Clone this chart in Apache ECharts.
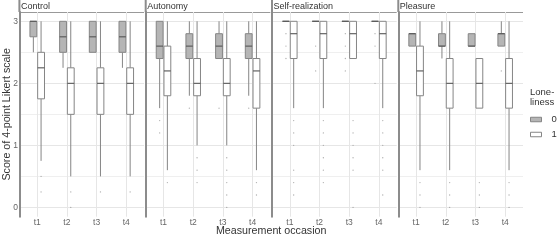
<!DOCTYPE html>
<html>
<head>
<meta charset="utf-8">
<script src="https://cdn.jsdelivr.net/npm/echarts@6/dist/echarts.min.js"></script>
<style>html,body{margin:0;padding:0;background:#fff;}#c{width:558px;height:240px;}</style>
</head>
<body>
<div id="c"></div>
<script>
// ---- data ----
const panels = ['Control', 'Autonomy', 'Self-realization', 'Pleasure'];
const occasions = ['t1', 't2', 't3', 't4'];
const groups = ['0', '1'];
const yTicks = [0, 1, 2, 3];
const yMinor = [0.5, 1.5, 2.5];

// box stats per occasion: [lower whisker, Q1, median, Q3, upper whisker]
const controlBox0 = [[2.5, 2.75, 3, 3, 3], [2.25, 2.5, 2.75, 3, 3], [2.5, 2.5, 2.75, 3, 3], [2.25, 2.5, 2.75, 3, 3]];
const controlBox1 = [[0.75, 1.75, 2.25, 2.5, 3], [0.5, 1.5, 2, 2.25, 3], [0.5, 1.5, 2, 2.25, 3], [0.5, 1.5, 2, 2.25, 3]];
const controlOut0 = [[], [], [], []];
const controlOut1 = [[0.5, 0.25], [0.25, 0], [0.25], [0.25]];

const autonomyBox0 = [[1.6, 2.4, 2.6, 3, 3], [1.8, 2.4, 2.6, 2.8, 3], [2.4, 2.4, 2.6, 2.8, 3], [1.8, 2.4, 2.6, 2.8, 3]];
const autonomyBox1 = [[0.6, 1.8, 2.2, 2.6, 3], [1.0, 1.8, 2.0, 2.4, 3], [1.0, 1.8, 2.0, 2.4, 3], [0.6, 1.6, 2.2, 2.4, 3]];
const autonomyOut0 = [[1.4, 1.2], [1.6], [1.6], [1.6]];
const autonomyOut1 = [[0.4], [0.8, 0.6, 0.4], [0.8, 0.6, 0.4, 0.2, 0], [0.4, 0.2]];

const selfBox0 = [[3, 3, 3, 3, 3], [3, 3, 3, 3, 3], [3, 3, 3, 3, 3], [3, 3, 3, 3, 3]];
const selfBox1 = [[1.6, 2.4, 2.8, 3, 3], [1.6, 2.4, 2.8, 3, 3], [2.4, 2.4, 2.8, 3, 3], [1.6, 2.4, 2.8, 3, 3]];
const selfOut0 = [[2.8, 2.6, 2.4], [2.6, 2.2], [2.8, 2.6, 2.4, 2.2], [2.8, 2.6, 2.0]];
const selfOut1 = [[1.4, 1.2, 1.0, 0.6, 0.4, 0.2], [1.4, 1.2, 1.0, 0.8, 0.6, 0.4], [1.4, 1.2, 1.0, 0.8, 0.6, 0], [1.4, 1.2, 1.0, 0.8, 0.6, 0.2]];

const pleasureBox0 = [[2.6, 2.6, 2.8, 2.8, 2.8], [2.4, 2.6, 2.6, 2.8, 3], [2.6, 2.6, 2.6, 2.8, 2.8], [2.6, 2.6, 2.8, 2.8, 3]];
const pleasureBox1 = [[0.6, 1.8, 2.2, 2.6, 3], [0.6, 1.6, 2.0, 2.4, 3], [1.6, 1.6, 2.0, 2.4, 2.4], [0.6, 1.6, 2.0, 2.4, 3]];
const pleasureOut0 = [[], [], [], [2.2]];
const pleasureOut1 = [[0.4, 0.2, 0], [0.4, 0.2, 0], [0.4, 0.2, 0], [0.4, 0.2, 0]];

const boxes = [[controlBox0, controlBox1], [autonomyBox0, autonomyBox1], [selfBox0, selfBox1], [pleasureBox0, pleasureBox1]];
const outs = [[controlOut0, controlOut1], [autonomyOut0, autonomyOut1], [selfOut0, selfOut1], [pleasureOut0, pleasureOut1]];

// ---- layout / style ----
const FONT = '"Liberation Sans", Arial, Helvetica, sans-serif';
const P_LEFT0 = 19.4, P_PITCH = 126.3, P_W = 124.7, P_TOP = 12, P_H = 204.7;
const DODGE = [-0.13, 0.13];
const BOX_W = 0.23;
const FILLS = ['#b5b5b5', '#ffffff'];
const EDGE = '#858585';
const MEDIAN = '#555555';
const GRID_MAJOR = '#e6e6e6', GRID_MINOR = '#efefef';

const chart = echarts.init(document.getElementById('c'), null, { renderer: 'canvas' });

const grids = [], xAxes = [], yAxes = [], series = [], graphics = [];
panels.forEach((name, k) => {
  const left = P_LEFT0 + k * P_PITCH;
  grids.push({ left: left, top: P_TOP, width: P_W, height: P_H, containLabel: false });
  xAxes.push({
    type: 'value', gridIndex: k, min: 0.4, max: 4.6,
    axisLine: { show: false }, axisTick: { show: false, customValues: [1, 2, 3, 4] }, splitLine: { show: false },
    axisLabel: {
      customValues: [1, 2, 3, 4], formatter: v => occasions[Math.round(v) - 1] || '',
      color: '#666', fontSize: 8.5, fontFamily: FONT, margin: 1.5
    }
  });
  yAxes.push({
    type: 'value', gridIndex: k, min: -0.15, max: 3.15,
    axisLine: { show: true, lineStyle: { color: '#8c8c8c', width: 2 } },
    axisTick: { show: false, customValues: yTicks }, splitLine: { show: false },
    axisLabel: { show: k === 0, customValues: yTicks, color: '#666', fontSize: 8.5, fontFamily: FONT, margin: 1.5 }
  });
  // grid lines
  series.push({
    type: 'scatter', xAxisIndex: k, yAxisIndex: k, data: [], silent: true, z: 0,
    markLine: {
      silent: true, symbol: ['none', 'none'], label: { show: false }, animation: false, z: 0,
      data: [
        ...yTicks.map(v => ({ yAxis: v, lineStyle: { color: GRID_MAJOR, width: 1, type: 'solid' } })),
        ...yMinor.map(v => ({ yAxis: v, lineStyle: { color: GRID_MINOR, width: 1, type: 'solid' } })),
        ...occasions.map((o, i) => ({ xAxis: i + 1, lineStyle: { color: GRID_MAJOR, width: 1, type: 'solid' } }))
      ]
    }
  });
  groups.forEach((g, gi) => {
    const off = DODGE[gi];
    series.push({
      name: g, type: 'custom', xAxisIndex: k, yAxisIndex: k, z: 3, animation: false,
      encode: { x: 0, y: [1, 2, 3, 4, 5] },
      data: boxes[k][gi].map((b, i) => [i + 1, ...b]),
      renderItem: function (params, api) {
        const x = api.value(0) + off;
        const lw = api.value(1), q1 = api.value(2), med = api.value(3), q3 = api.value(4), uw = api.value(5);
        const tl = api.coord([x - BOX_W / 2, q3]);
        const br = api.coord([x + BOX_W / 2, q1]);
        const c = v => api.coord([x, v]);
        const children = [];
        const ws = { stroke: EDGE, lineWidth: 1 };
        if (uw > q3) children.push({ type: 'line', shape: { x1: c(q3)[0], y1: c(q3)[1], x2: c(uw)[0], y2: c(uw)[1] }, style: ws });
        if (lw < q1) children.push({ type: 'line', shape: { x1: c(q1)[0], y1: c(q1)[1], x2: c(lw)[0], y2: c(lw)[1] }, style: ws });
        children.push({ type: 'rect', shape: { x: tl[0], y: tl[1], width: br[0] - tl[0], height: br[1] - tl[1] }, style: { fill: FILLS[gi], stroke: EDGE, lineWidth: 1 } });
        const my = c(med)[1];
        children.push({ type: 'line', shape: { x1: tl[0], y1: my, x2: br[0], y2: my }, style: { stroke: MEDIAN, lineWidth: 1.1 } });
        return { type: 'group', children: children };
      }
    });
    const pts = [];
    outs[k][gi].forEach((vals, i) => vals.forEach(v => pts.push([i + 1 + off, v])));
    series.push({
      name: g + ' outliers', type: 'scatter', xAxisIndex: k, yAxisIndex: k, z: 4, silent: true, animation: false,
      symbol: 'circle', symbolSize: 1.3, itemStyle: { color: '#999' }, data: pts
    });
  });
  // strip
  graphics.push({ type: 'line', shape: { x1: left, y1: 0, x2: left, y2: P_TOP }, style: { stroke: '#8c8c8c', lineWidth: 2 } });
  graphics.push({ type: 'line', shape: { x1: left, y1: P_TOP + 0.5, x2: left + P_W, y2: P_TOP + 0.5 }, style: { stroke: '#999', lineWidth: 1 } });
  graphics.push({ type: 'text', x: left + 1.5, y: 6.5, style: { text: name, font: '9px ' + FONT, fill: '#333', verticalAlign: 'middle', align: 'left' } });
});

// axis titles & legend title
graphics.push({ type: 'text', x: P_LEFT0 + (3 * P_PITCH + P_W) / 2, y: 231.5, style: { text: 'Measurement occasion', font: '10.7px ' + FONT, fill: '#333', align: 'center', verticalAlign: 'middle' } });
graphics.push({ type: 'text', x: 7, y: P_TOP + P_H / 2, rotation: Math.PI / 2, style: { text: 'Score of 4-point Likert scale', font: '10.7px ' + FONT, fill: '#333', align: 'center', verticalAlign: 'middle' } });
graphics.push({ type: 'text', x: 530, y: 87, style: { text: 'Lone-\nliness', font: '9.5px ' + FONT, fill: '#333', align: 'left', verticalAlign: 'top', lineHeight: 10 } });

chart.setOption({
  animation: false,
  grid: grids, xAxis: xAxes, yAxis: yAxes, series: series,
  graphic: graphics,
  legend: {
    orient: 'vertical', left: 530, top: 114.5, padding: 0, itemWidth: 11, itemHeight: 4.5, itemGap: 5, selectedMode: false,
    textStyle: { fontSize: 9.5, color: '#333', fontFamily: FONT, padding: [0, 0, 0, 5] },
    data: [
      { name: '0', icon: 'rect', itemStyle: { color: FILLS[0], borderColor: EDGE, borderWidth: 1 } },
      { name: '1', icon: 'rect', itemStyle: { color: FILLS[1], borderColor: EDGE, borderWidth: 1 } }
    ]
  }
});
</script>
</body>
</html>
